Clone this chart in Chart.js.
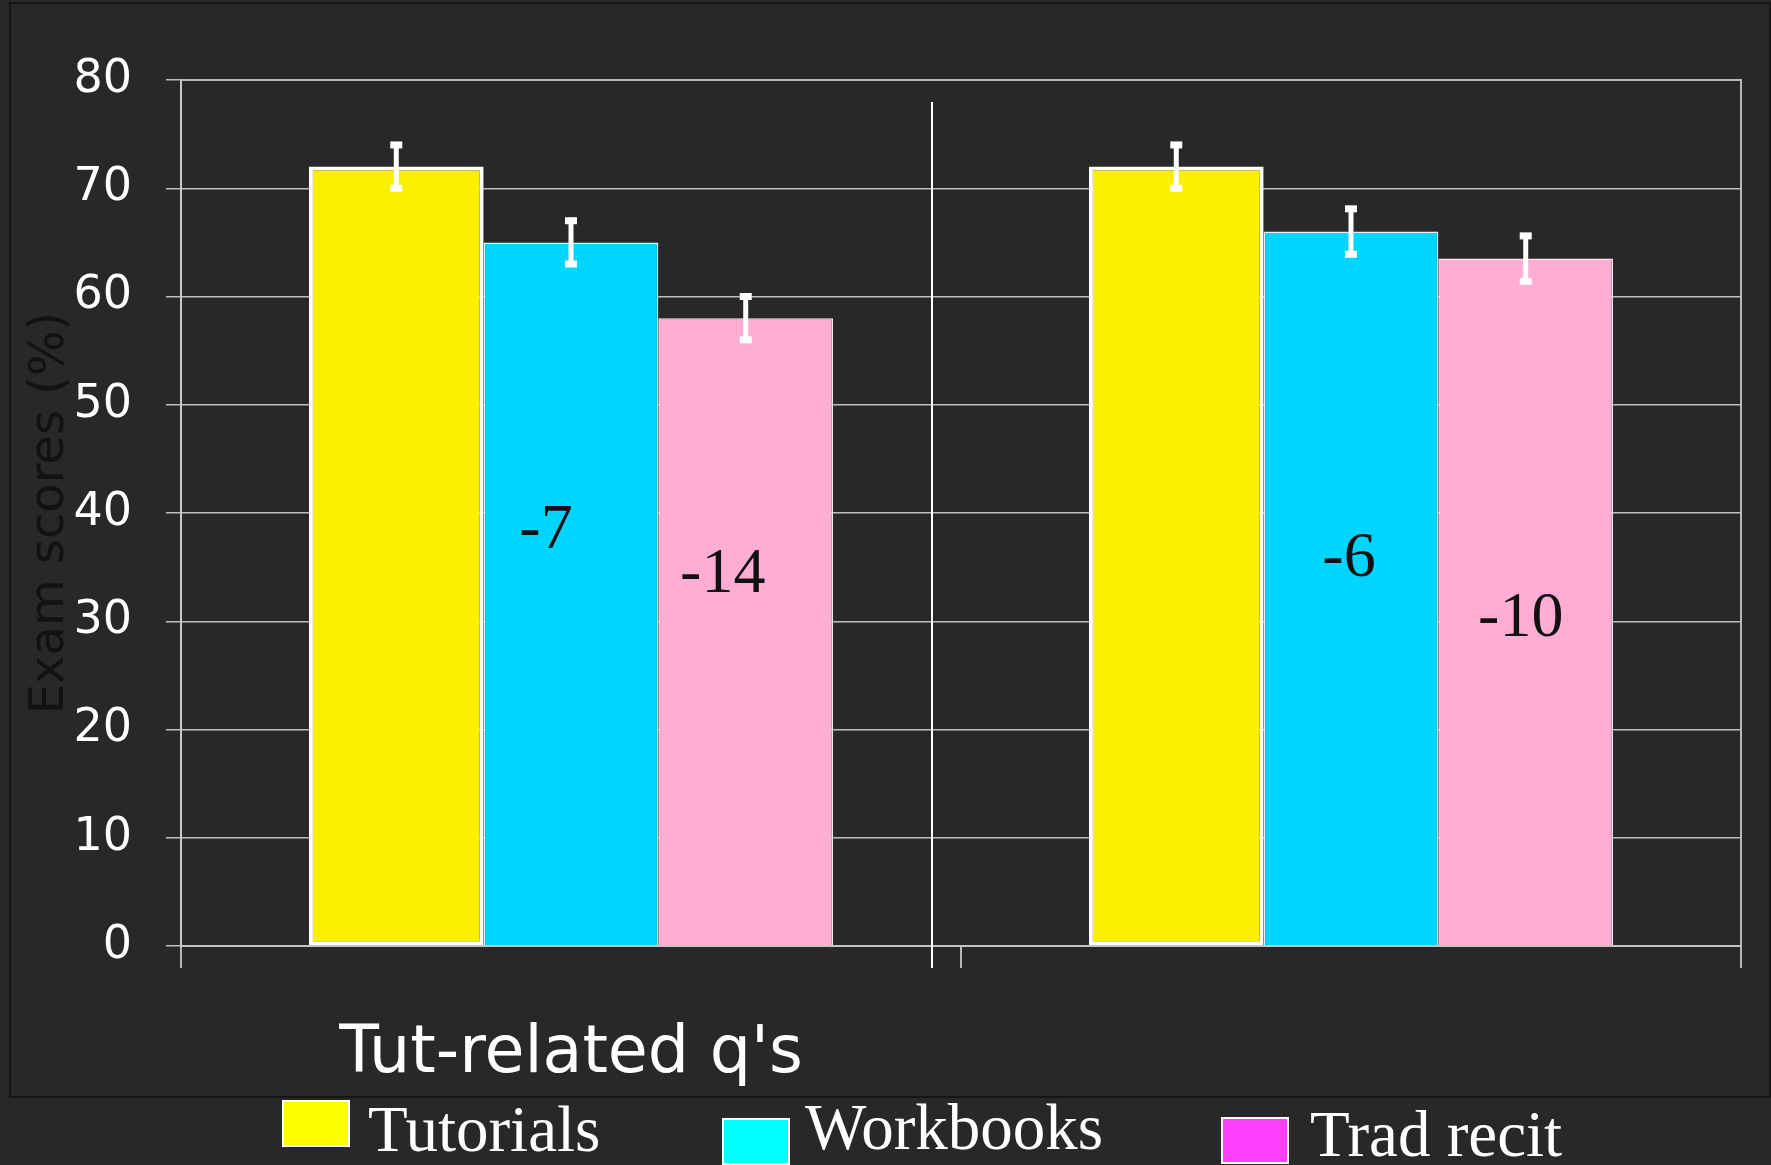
<!DOCTYPE html>
<html>
<head>
<meta charset="utf-8">
<script src="https://cdn.jsdelivr.net/npm/chart.js@4.4.1/dist/chart.umd.min.js"></script>
<style>
  html, body { margin: 0; padding: 0; background: #282828; }
  #wrap { position: relative; width: 1771px; height: 1165px; overflow: hidden; background: #282828; }
  #panel { position: absolute; left: 9px; top: 2px; width: 1758px; height: 1092px; border: 2px solid #161616; }
  #box { position: absolute; left: 0; top: 0; width: 1771px; height: 1165px; }
  .lg-box { position: absolute; width: 64px; height: 43px; border: 2px solid #ffffff; }
  .lg-text { position: absolute; font-family: "Liberation Serif", "Times New Roman", serif; font-size: 65px; line-height: 65px; color: #ffffff; white-space: nowrap; }
</style>
</head>
<body>
<div id="wrap">
  <div id="panel"></div>
  <div id="box"><canvas id="examChart"></canvas></div>

  <div class="lg-box" style="left:282px; top:1100px; background:#ffff00;"></div>
  <div class="lg-text" style="left:368px; top:1097px;">Tutorials</div>
  <div class="lg-box" style="left:722px; top:1118px; background:#00ffff;"></div>
  <div class="lg-text" style="left:805px; top:1095px;">Workbooks</div>
  <div class="lg-box" style="left:1221px; top:1117px; background:#ff40ff;"></div>
  <div class="lg-text" style="left:1310px; top:1102px;">Trad recit</div>
</div>

<script>
// datos
const categories = ["Tut-related q's", ""];
const tutorials = [72, 72];
const workbooks = [65, 66];
const tradRecit = [58, 63.5];

// barras de error (+/-)
const errTutorials = [2, 2];
const errWorkbooks = [2, 2.1];
const errTradRecit = [2, 2.1];

// diferencias escritas dentro de las barras
const diffWorkbooks = ['-7', '-6'];
const diffTradRecit = ['-14', '-10'];

const yTicks = [0, 10, 20, 30, 40, 50, 60, 70, 80];

// error bars + textos + marco
const extras = {
  id: 'extras',
  afterDatasetsDraw(chart) {
    const ctx = chart.ctx;
    const y = chart.scales.y;
    const errs = [errTutorials, errWorkbooks, errTradRecit];

    ctx.save();
    // marco del area
    const a = chart.chartArea;
    ctx.strokeStyle = '#b8b8b8';
    ctx.lineWidth = 2;
    ctx.beginPath();
    ctx.moveTo(a.left, a.top);
    ctx.lineTo(a.right, a.top);
    ctx.lineTo(a.right, a.bottom);
    ctx.stroke();

    chart.data.datasets.forEach((ds, i) => {
      const meta = chart.getDatasetMeta(i);
      meta.data.forEach((bar, j) => {
        const v = ds.data[j];
        const e = errs[i][j];
        const yTop = y.getPixelForValue(v + e);
        const yBot = y.getPixelForValue(v - e);
        ctx.strokeStyle = '#ffffff';
        ctx.fillStyle = '#ffffff';
        ctx.lineWidth = 5;
        ctx.beginPath();
        ctx.moveTo(bar.x, yTop);
        ctx.lineTo(bar.x, yBot);
        ctx.stroke();
        ctx.fillRect(bar.x - 6, yTop - 3.5, 12, 7);
        ctx.fillRect(bar.x - 6, yBot - 3.5, 12, 7);
      });
    });

    // textos -7, -14 ...
    const opts = chart.options.plugins.extras;
    ctx.fillStyle = '#111111';
    ctx.font = '64px "Liberation Serif", "Times New Roman", serif';
    ctx.textAlign = 'center';
    ctx.textBaseline = 'middle';
    const wb = chart.getDatasetMeta(1).data;
    const tr = chart.getDatasetMeta(2).data;
    diffWorkbooks.forEach((t, j) => {
      ctx.fillText(t, wb[j].x + opts.wbDx[j], y.getPixelForValue(opts.wbAt[j]));
    });
    diffTradRecit.forEach((t, j) => {
      ctx.fillText(t, tr[j].x + opts.trDx[j], y.getPixelForValue(opts.trAt[j]));
    });

    // linea separadora de la diapositiva
    ctx.strokeStyle = '#ffffff';
    ctx.lineWidth = 2;
    ctx.beginPath();
    ctx.moveTo(opts.sepX, opts.sepTop);
    ctx.lineTo(opts.sepX, opts.sepBottom);
    ctx.stroke();
    ctx.restore();
  }
};

const ctx = document.getElementById('examChart').getContext('2d');

new Chart(ctx, {
  type: 'bar',
  data: {
    labels: categories,
    datasets: [
      {
        label: 'Tutorials',
        data: tutorials,
        backgroundColor: '#fcf000',
        borderColor: '#ffffff',
        borderWidth: 4,
        borderSkipped: false
      },
      {
        label: 'Workbooks',
        data: workbooks,
        backgroundColor: '#00d5ff',
        borderColor: '#e6f4ff',
        borderWidth: 1.5
      },
      {
        label: 'Trad recit',
        data: tradRecit,
        backgroundColor: '#ffadd5',
        borderColor: '#f4e8ee',
        borderWidth: 1.5
      }
    ]
  },
  options: {
    responsive: true,
    maintainAspectRatio: false,
    animation: false,
    layout: {
      padding: { left: 0, right: 30, top: 80, bottom: 0 }
    },
    datasets: {
      bar: { barPercentage: 1.0, categoryPercentage: 0.672 }
    },
    scales: {
      x: {
        offset: true,
        grid: {
          offset: true,
          drawOnChartArea: false,
          tickLength: 22,
          color: '#b8b8b8',
          lineWidth: 2
        },
        border: { color: '#c4c4c4', width: 2 },
        ticks: {
          color: '#ffffff',
          padding: 48,
          font: { family: '"DejaVu Sans", Verdana, sans-serif', size: 65 }
        },
        afterFit(scale) { scale.height = 219; }
      },
      y: {
        min: 0,
        max: 80,
        afterBuildTicks(scale) { scale.ticks = yTicks.map(v => ({ value: v })); },
        grid: {
          color: '#bdbdbd',
          lineWidth: 1.5,
          tickLength: 15
        },
        border: { color: '#c8c8c8', width: 2 },
        ticks: {
          color: '#ffffff',
          padding: 34,
          font: { family: '"DejaVu Sans", Verdana, sans-serif', size: 46 }
        },
        title: {
          display: true,
          text: 'Exam scores (%)',
          color: '#121212',
          padding: { top: 22, bottom: 0 },
          font: { family: '"DejaVu Sans", Verdana, sans-serif', size: 48 }
        },
        afterFit(scale) { scale.width = 181; }
      }
    },
    plugins: {
      legend: { display: false },
      tooltip: { enabled: false },
      extras: {
        wbAt: [38.3, 35.7],
        trAt: [34.3, 30.2],
        wbDx: [-25, -2],
        trDx: [-23, -5],
        sepX: 932,
        sepTop: 102,
        sepBottom: 968
      }
    }
  },
  plugins: [extras]
});
</script>
</body>
</html>
